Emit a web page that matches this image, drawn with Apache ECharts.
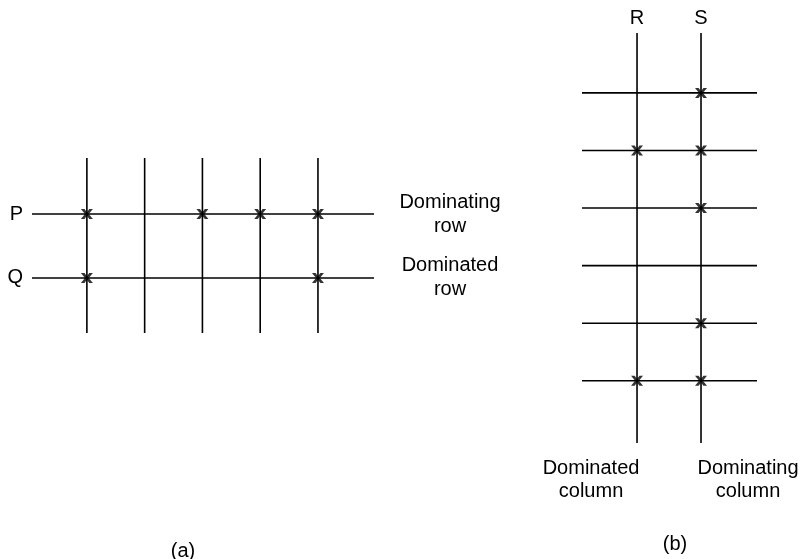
<!DOCTYPE html>
<html>
<head>
<meta charset="utf-8">
<script src="https://cdn.jsdelivr.net/npm/echarts@6/dist/echarts.min.js"></script>
<style>
  html, body { margin: 0; padding: 0; background: #fff; }
  #main { width: 802px; height: 559px; }
</style>
</head>
<body>
<div id="main"></div>
<script>
// (a) row dominance: rows P, Q over five columns
const rowNamesA = ["P", "Q"];
const rowNotesA = ["Dominating\nrow", "Dominated\nrow"];
const colsA = [1, 2, 3, 4, 5];
// [column, row] where a cross sits
const marksA = [[1, 1], [3, 1], [4, 1], [5, 1], [1, 2], [5, 2]];

// (b) column dominance: columns R, S over six rows
const colNamesB = ["R", "S"];
const colNotesB = ["Dominated\ncolumn", "Dominating\ncolumn"];
const rowsB = [1, 2, 3, 4, 5, 6];
const marksB = [[2, 1], [1, 2], [2, 2], [2, 3], [2, 5], [1, 6], [2, 6]];

// axis extents (line ends run to the edges of each grid)
const xA = [0.05, 5.97], yA = [0.125, 2.86];
const xB = [0.14, 2.875], yB = [-0.04, 7.08];

const font = "Liberation Sans";
const ink = "#000";
const cross = "path://M0,0L3,0L5,2.6L7,0L10,0L6.6,4L10,8L7,8L5,5.4L3,8L0,8L3.4,4Z";

function lineSeries(grid, data) {
  return {
    type: "line",
    xAxisIndex: grid,
    yAxisIndex: grid,
    data: data,
    symbol: "circle",
    symbolSize: 0,
    silent: true,
    lineStyle: { color: ink, width: 1.6 },
    label: { show: false, color: ink, fontFamily: font, fontSize: 20 },
  };
}

const series = [];

// (a) horizontal rows
rowNamesA.forEach((name, i) => {
  const r = i + 1;
  series.push(
    lineSeries(0, [
      { value: [xA[0], r], label: { show: true, formatter: name, position: "left", distance: 9 } },
      { value: [xA[1], r], label: { show: true, formatter: rowNotesA[i], position: "right", distance: 76, align: "center", lineHeight: 24 } },
    ])
  );
});
// (a) vertical columns
colsA.forEach((c) => {
  series.push(lineSeries(0, [[c, yA[0]], [c, yA[1]]]));
});

// (b) horizontal rows
rowsB.forEach((r) => {
  series.push(lineSeries(1, [[xB[0], r], [xB[1], r]]));
});
// (b) vertical columns
colNamesB.forEach((name, i) => {
  const c = i + 1;
  series.push(
    lineSeries(1, [
      { value: [c, yB[0]], label: { show: true, formatter: name, position: "top", distance: 5 } },
      { value: [c, yB[1]], label: { show: true, formatter: colNotesB[i], position: "bottom", distance: 14, align: "center", lineHeight: 23, offset: [i === 0 ? -46 : 47, 0] } },
    ])
  );
});

// crosses
[marksA, marksB].forEach((marks, g) => {
  series.push({
    type: "scatter",
    xAxisIndex: g,
    yAxisIndex: g,
    data: marks,
    symbol: cross,
    symbolSize: [12, 10],
    itemStyle: { color: ink },
    silent: true,
    z: 5,
  });
});

const chart = echarts.init(document.getElementById("main"));
chart.setOption({
  backgroundColor: "#fff",
  animation: false,
  title: [
    { text: "(a)", left: 178, top: 536, textAlign: "center", textStyle: { fontFamily: font, fontSize: 20, fontWeight: "normal", color: ink } },
    { text: "(b)", left: 670, top: 529, textAlign: "center", textStyle: { fontFamily: font, fontSize: 20, fontWeight: "normal", color: ink } },
  ],
  grid: [
    { left: 32, top: 158, width: 342, height: 175 },
    { left: 582, top: 33, width: 175, height: 410 },
  ],
  xAxis: [
    { type: "value", gridIndex: 0, min: xA[0], max: xA[1], show: false },
    { type: "value", gridIndex: 1, min: xB[0], max: xB[1], show: false },
  ],
  yAxis: [
    { type: "value", gridIndex: 0, min: yA[0], max: yA[1], inverse: true, show: false },
    { type: "value", gridIndex: 1, min: yB[0], max: yB[1], inverse: true, show: false },
  ],
  series: series,
});
</script>
</body>
</html>
